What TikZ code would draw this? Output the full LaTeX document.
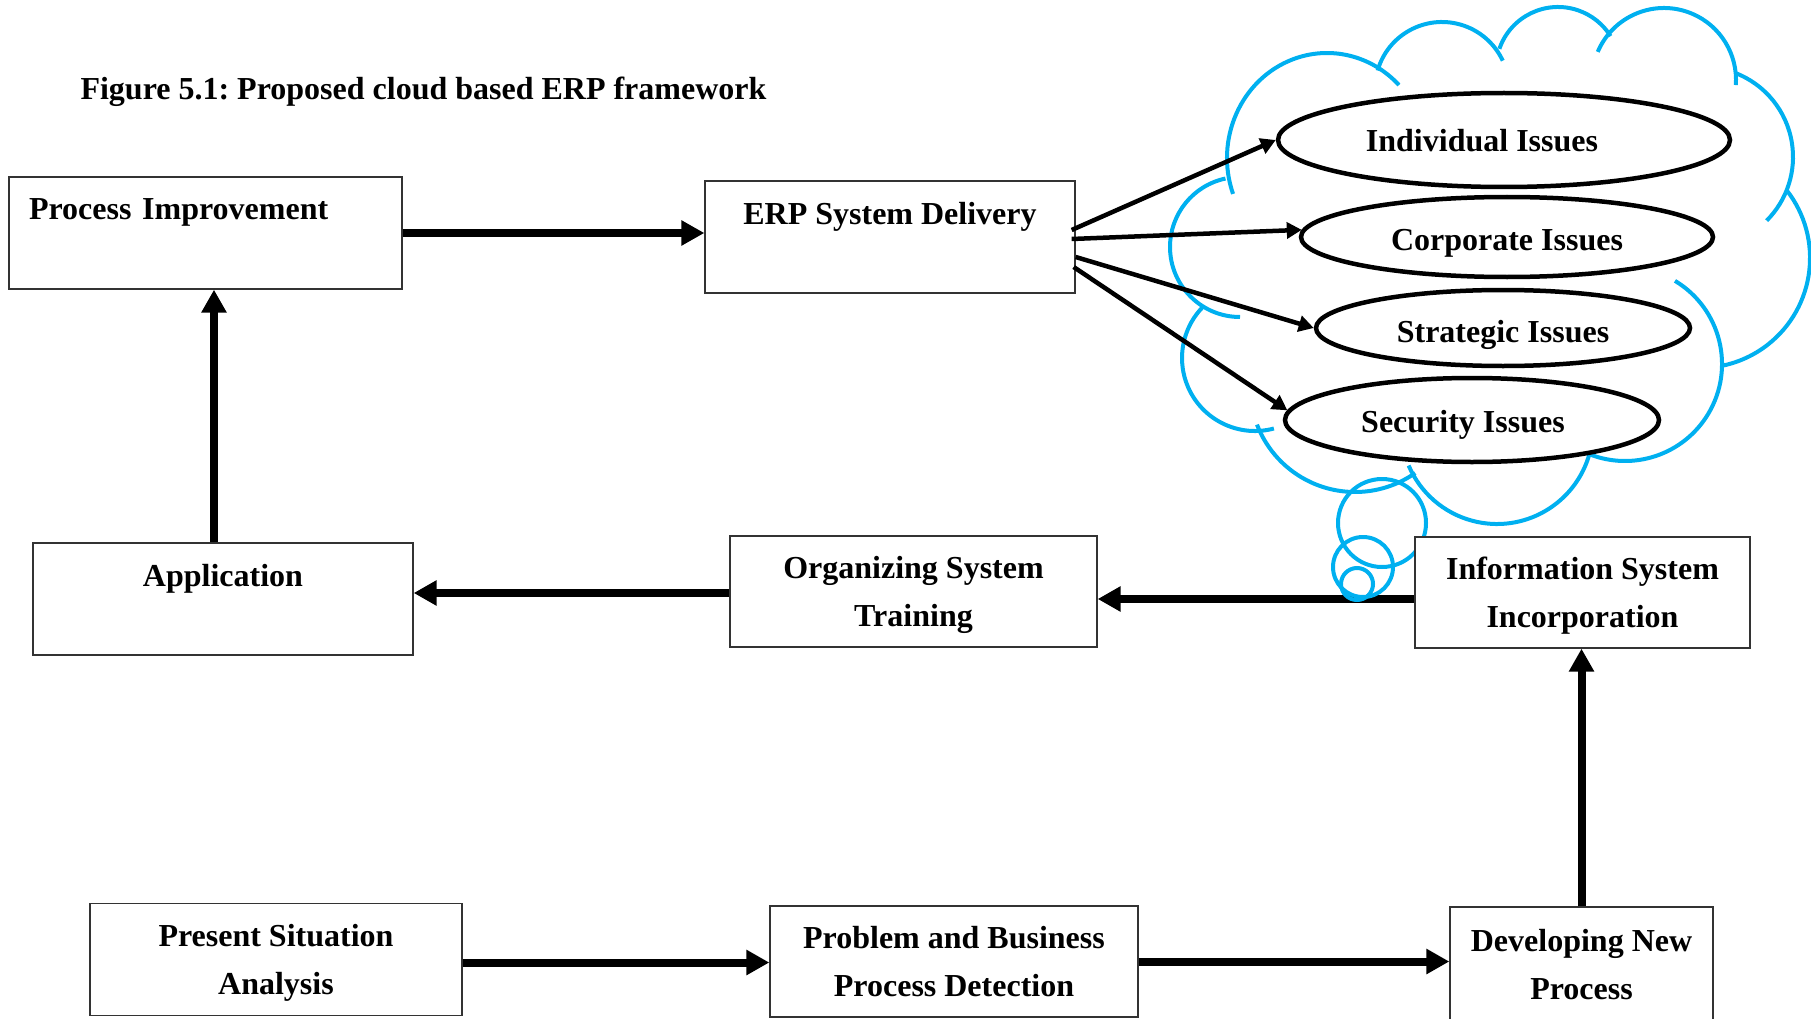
\documentclass[tikz,border=0pt]{standalone}
\usepackage{fontspec}
\setmainfont{Liberation Serif}
\usetikzlibrary{arrows.meta,shapes.geometric}
\definecolor{cloudblue}{HTML}{00B0F0}
\pgfdeclarelayer{background}
\pgfsetlayers{background,main}
\frenchspacing
\begin{document}
\begin{tikzpicture}[x=1pt,y=-1pt,
  txt/.style={font=\bfseries\fontsize{32}{48}\selectfont},
  box/.style={txt, draw=black!80, line width=1.3pt, fill=white, rectangle, inner sep=0pt, align=center},
  cbox/.style={box, text depth=0pt},
  issue/.style={txt, draw=black, line width=4.5pt, fill=white, ellipse, inner sep=0pt, text depth=0pt},
  flow/.style={line width=8pt, -{Triangle[length=23pt,width=24pt]}},
  link/.style={line width=4.5pt, -{Triangle[length=15pt,width=16pt]}},
  cloudline/.style={draw=cloudblue, line width=4pt}
]
\useasboundingbox (0,0) rectangle (1811,1019);

\node[txt, anchor=base west] (title) at (77,100) {Figure 5.1: Proposed cloud based ERP framework};

% boxes
\node[box, align=left, text width=353pt, inner xsep=20pt, minimum height=112pt] (pi) at (205.5,233) {Process Improvement\\ \mbox{}};
\node[cbox, minimum width=370pt, minimum height=112pt] (erp) at (890,237) {ERP System Delivery\\ \mbox{}};
\node[cbox, minimum width=380pt, minimum height=112pt] (app) at (223,599) {Application\\ \mbox{}};
\node[cbox, minimum width=367pt, minimum height=111pt] (ost) at (913.5,591.5) {Organizing System\\Training};
\node[cbox, minimum width=335pt, minimum height=111pt] (isi) at (1582.5,592.5) {Information System\\Incorporation};
\node[cbox, minimum width=372pt, minimum height=112pt] (psa) at (276,959.5) {Present Situation\\Analysis};
\node[cbox, minimum width=368pt, minimum height=111pt] (pbpd) at (954,961.5) {Problem and Business\\Process Detection};
\node[cbox, minimum width=263pt, minimum height=114pt] (dnp) at (1581.5,964) {Developing New\\Process};

% issue ellipses
\node[issue, minimum width=452pt, minimum height=94pt] (ind) at (1504,140) {Individual Issues\hspace*{44pt}};
\node[issue, minimum width=412pt, minimum height=80pt] (cor) at (1507,237) {\raisebox{-5pt}{Corporate Issues}};
\node[issue, minimum width=374pt, minimum height=76pt] (str) at (1503,328) {\raisebox{-7pt}{Strategic Issues}};
\node[issue, minimum width=374pt, minimum height=84pt] (sec) at (1472,420) {\raisebox{-2.5pt}{Security Issues}\hspace*{18pt}};

% main flow arrows
\draw[flow] (pi.east) -- (pi.east -| erp.west);
\draw[flow] ([xshift=-9pt]app.north) -- ([xshift=-9pt]app.north |- pi.south);
\draw[flow] ([yshift=-1.5pt]ost.west) -- ([yshift=-1.5pt]ost.west -| app.east);
\draw[flow] ([yshift=-3pt]psa.east) -- ([yshift=-3pt]psa.east -| pbpd.west);
\draw[flow] (pbpd.east) -- (pbpd.east -| dnp.west);
\draw[flow] (dnp.north) -- (dnp.north |- isi.south);

\begin{pgfonlayer}{background}
\draw[flow] ([yshift=-6.5pt]isi.west) -- ([yshift=-6.5pt]isi.west -| ost.east);
% cloud outline
\draw[cloudline] ([shift={(160:100 and 105)}]1327,158) arc[start angle=160,end angle=316,x radius=100,y radius=105];
\draw[cloudline] ([shift={(196:67)}]1442,89) arc[start angle=196,end angle=335,radius=67];
\draw[cloudline] ([shift={(199:62)}]1558,69) arc[start angle=199,end angle=328,radius=62];
\draw[cloudline] ([shift={(203:72)}]1664,80) arc[start angle=203,end angle=364,radius=72];
\draw[cloudline] ([shift={(291:90)}]1703,157) arc[start angle=291,end angle=405,radius=90];
\draw[cloudline] ([shift={(322:110)}]1700,258) arc[start angle=322,end angle=438,radius=110];
\draw[cloudline] ([shift={(301:97)}]1625,364) arc[start angle=301,end angle=472,radius=97];
\draw[cloudline] ([shift={(15:96)}]1497,428) arc[start angle=15,end angle=157,radius=96];
\draw[cloudline] ([shift={(55:105)}]1355,387) arc[start angle=55,end angle=159,radius=105];
\draw[cloudline] ([shift={(75:73)}]1255,358) arc[start angle=75,end angle=224,radius=73];
\draw[cloudline] ([shift={(90:70)}]1240,247) arc[start angle=90,end angle=258,radius=70];
% thought bubbles
\draw[cloudline] (1382,523) circle[radius=44];
\draw[cloudline] (1363,567) circle[radius=30];
\draw[cloudline] (1357,584) circle[radius=16];
\end{pgfonlayer}

% issue links
\draw[link] ([xshift=-4pt,yshift=7pt]erp.east) -- (ind.west);
\draw[link] ([xshift=-4pt,yshift=-2pt]erp.east) -- (cor.178);
\draw[link] ([yshift=-20pt]erp.east) -- (str.west);
\draw[link] ([xshift=-2pt,yshift=-30pt]erp.east) -- (sec.177);
\end{tikzpicture}
\end{document}
